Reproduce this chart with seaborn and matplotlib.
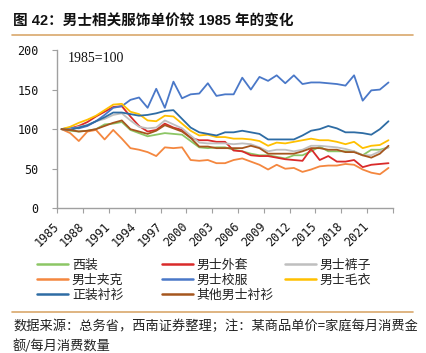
import matplotlib
matplotlib.use("Agg")
import matplotlib.pyplot as plt
import pandas as pd
import seaborn as sns
from matplotlib.lines import Line2D

years = list(range(1985, 2024))

suit = [100, 98, 97, 98, 100, 106, 107, 109, 99, 95,
        91, 93, 95, 94, 93, 85, 77, 76, 77, 77,
        74, 72, 69, 67, 67, 65, 63, 67, 67, 72,
        78, 72, 72, 72, 72, 67, 74, 74, 77]
coat = [100, 101, 104, 109, 116, 122, 128, 129, 116, 104,
        97, 99, 107, 102, 99, 89, 86, 86, 84, 84,
        73, 72, 67, 66, 66, 64, 62, 61, 60, 75,
        61, 66, 59, 59, 61, 52, 55, 56, 57]
trousers = [100, 100, 103, 105, 110, 113, 118, 120, 111, 103,
            101, 102, 111, 106, 101, 92, 83, 82, 82, 82,
            81, 82, 81, 77, 72, 74, 74, 72, 74, 79,
            79, 78, 77, 75, 72, 67, 67, 72, 77]
jacket = [100, 95, 85, 97, 99, 87, 99, 88, 76, 74,
          71, 66, 77, 76, 77, 61, 60, 61, 57, 57,
          61, 63, 59, 55, 49, 55, 50, 51, 46, 49,
          53, 54, 54, 56, 55, 49, 45, 43, 51]
uniform = [100, 102, 101, 104, 110, 118, 127, 129, 137, 140,
           127, 151, 127, 160, 139, 144, 145, 158, 142, 144,
           144, 165, 150, 166, 161, 168, 158, 168, 157, 159,
           159, 158, 157, 155, 168, 136, 149, 150, 159]
sweater = [100, 103, 108, 112, 117, 124, 131, 132, 122, 119,
           111, 110, 117, 116, 107, 98, 92, 93, 90, 90,
           88, 88, 87, 85, 79, 83, 82, 84, 86, 88,
           86, 86, 84, 81, 84, 76, 79, 80, 86]
formal_shirt = [100, 99, 102, 105, 110, 115, 121, 121, 119, 117,
                118, 120, 123, 124, 113, 102, 96, 94, 92, 96,
                96, 98, 96, 94, 87, 87, 87, 87, 92, 98,
                100, 104, 101, 96, 96, 95, 93, 100, 110]
other_shirt = [100, 99, 97, 98, 100, 104, 108, 111, 100, 97,
               94, 98, 105, 101, 97, 89, 78, 78, 76, 76,
               76, 76, 79, 76, 69, 69, 69, 69, 72, 76,
               76, 74, 74, 71, 71, 67, 64, 69, 79]

series_names = ['西装', '男士外套', '男士裤子', '男士夹克',
                '男士校服', '男士毛衣', '正装衬衫', '其他男士衬衫']
series_values = [suit, coat, trousers, jacket, uniform, sweater,
                 formal_shirt, other_shirt]
colors = ['#8CC665', '#D92A2A', '#BFBFBF', '#F4873F',
          '#4A78C8', '#FFC000', '#2E6CA4', '#A5561E']

x_tick_labels = [str(y) for y in range(1985, 2022, 3)]
y_ticks = [0, 50, 100, 150, 200]

title = '图 42：男士相关服饰单价较 1985 年的变化'
note = '1985=100'
source1 = '数据来源：总务省，西南证券整理；注：某商品单价=家庭每月消费金'
source2 = '额/每月消费数量'

# ---------------------------------------------------------------
frames = [pd.DataFrame({'year': years, 'value': v, 'series': n})
          for n, v in zip(series_names, series_values)]
df = pd.concat(frames, ignore_index=True)
palette = dict(zip(series_names, colors))

sns.set_theme(style='ticks')
plt.rcParams['font.family'] = ['Noto Sans CJK SC', 'DejaVu Sans']

W, H = 426, 353
fig = plt.figure(figsize=(W / 100, H / 100), dpi=100)
fig.patch.set_facecolor('white')

x0, x1, ytop, ybot = 57.3, 392.8, 50.0, 208.3
ax = fig.add_axes([x0 / W, (H - ybot) / H, (x1 - x0) / W, (ybot - ytop) / H])

sns.lineplot(data=df, x='year', y='value', hue='series',
             hue_order=series_names, palette=palette, linewidth=1.3,
             estimator=None, legend=False, ax=ax)

ax.set_xlim(1984.5, 2023.5)
ax.set_ylim(0, 200)
ax.set_xlabel('')
ax.set_ylabel('')
for s in ['top', 'right']:
    ax.spines[s].set_visible(False)
for s in ['left', 'bottom']:
    ax.spines[s].set_color('#A0A0A0')
    ax.spines[s].set_linewidth(1.0)

ax.set_yticks(y_ticks)
ax.set_yticklabels([str(v) for v in y_ticks])
ax.tick_params(axis='y', length=3.5, width=0.8, color='#A0A0A0', pad=10,
               labelsize=8.5, labelcolor='#111111',
               labelfontfamily='DejaVu Sans Mono')

major = list(range(1985, 2022, 3))
minor = [1984.5 + 3 * k for k in range(14)]
ax.set_xticks(major)
ax.set_xticklabels(x_tick_labels)
ax.set_xticks(minor, minor=True)
ax.tick_params(axis='x', which='major', length=0, pad=8.5, labelsize=8.5,
               labelcolor='#111111', labelfontfamily='DejaVu Sans Mono')
ax.tick_params(axis='x', which='minor', length=3.5, width=0.8,
               color='#A0A0A0', bottom=True)
for lbl in ax.get_xticklabels():
    lbl.set_rotation(45)
    lbl.set_ha('right')
    lbl.set_va('top')

ax.text(0.032, 0.949, note, transform=ax.transAxes, ha='left', va='center',
        fontsize=10, family='Liberation Serif', color='#111111')

# legend: three columns placed at fixed positions
handles = {n: Line2D([], [], color=palette[n], lw=1.8) for n in series_names}
cols = [(37, ['西装', '男士夹克', '正装衬衫']),
        (162, ['男士外套', '男士校服', '其他男士衬衫']),
        (285, ['男士裤子', '男士毛衣'])]
for cx, names in cols:
    leg = fig.legend([handles[n] for n in names], names,
                     loc='upper left', bbox_to_anchor=(cx / W, 1 - 259 / H),
                     frameon=False, borderpad=0, borderaxespad=0,
                     handlelength=2.4, handletextpad=0.3, labelspacing=0.15,
                     prop={'size': 9.3, 'family': ['Noto Sans CJK SC']})
    for t in leg.get_texts():
        t.set_color('#222222')

# title and rules
fig.text(13 / W, 1 - 21.7 / H, title, ha='left', va='center',
         fontsize=10.5, fontweight='bold', color='#111111',
         family=['Liberation Sans', 'Noto Sans CJK SC'])
rule_color = '#D9A86C'
fig.add_artist(Line2D([12 / W, 413 / W], [1 - 35 / H, 1 - 35 / H],
                      color=rule_color, lw=1.2, transform=fig.transFigure))
fig.add_artist(Line2D([12 / W, 413 / W], [1 - 311.5 / H, 1 - 311.5 / H],
                      color=rule_color, lw=1.2, transform=fig.transFigure))

fig.text(13 / W, 1 - 326 / H, source1, ha='left', va='center',
         fontsize=9.5, color='#222222', family=['Noto Sans CJK SC'])
fig.text(13 / W, 1 - 346 / H, source2, ha='left', va='center',
         fontsize=9.5, color='#222222', family=['Noto Sans CJK SC'])

fig.savefig('out.png', dpi=100, facecolor='white')
